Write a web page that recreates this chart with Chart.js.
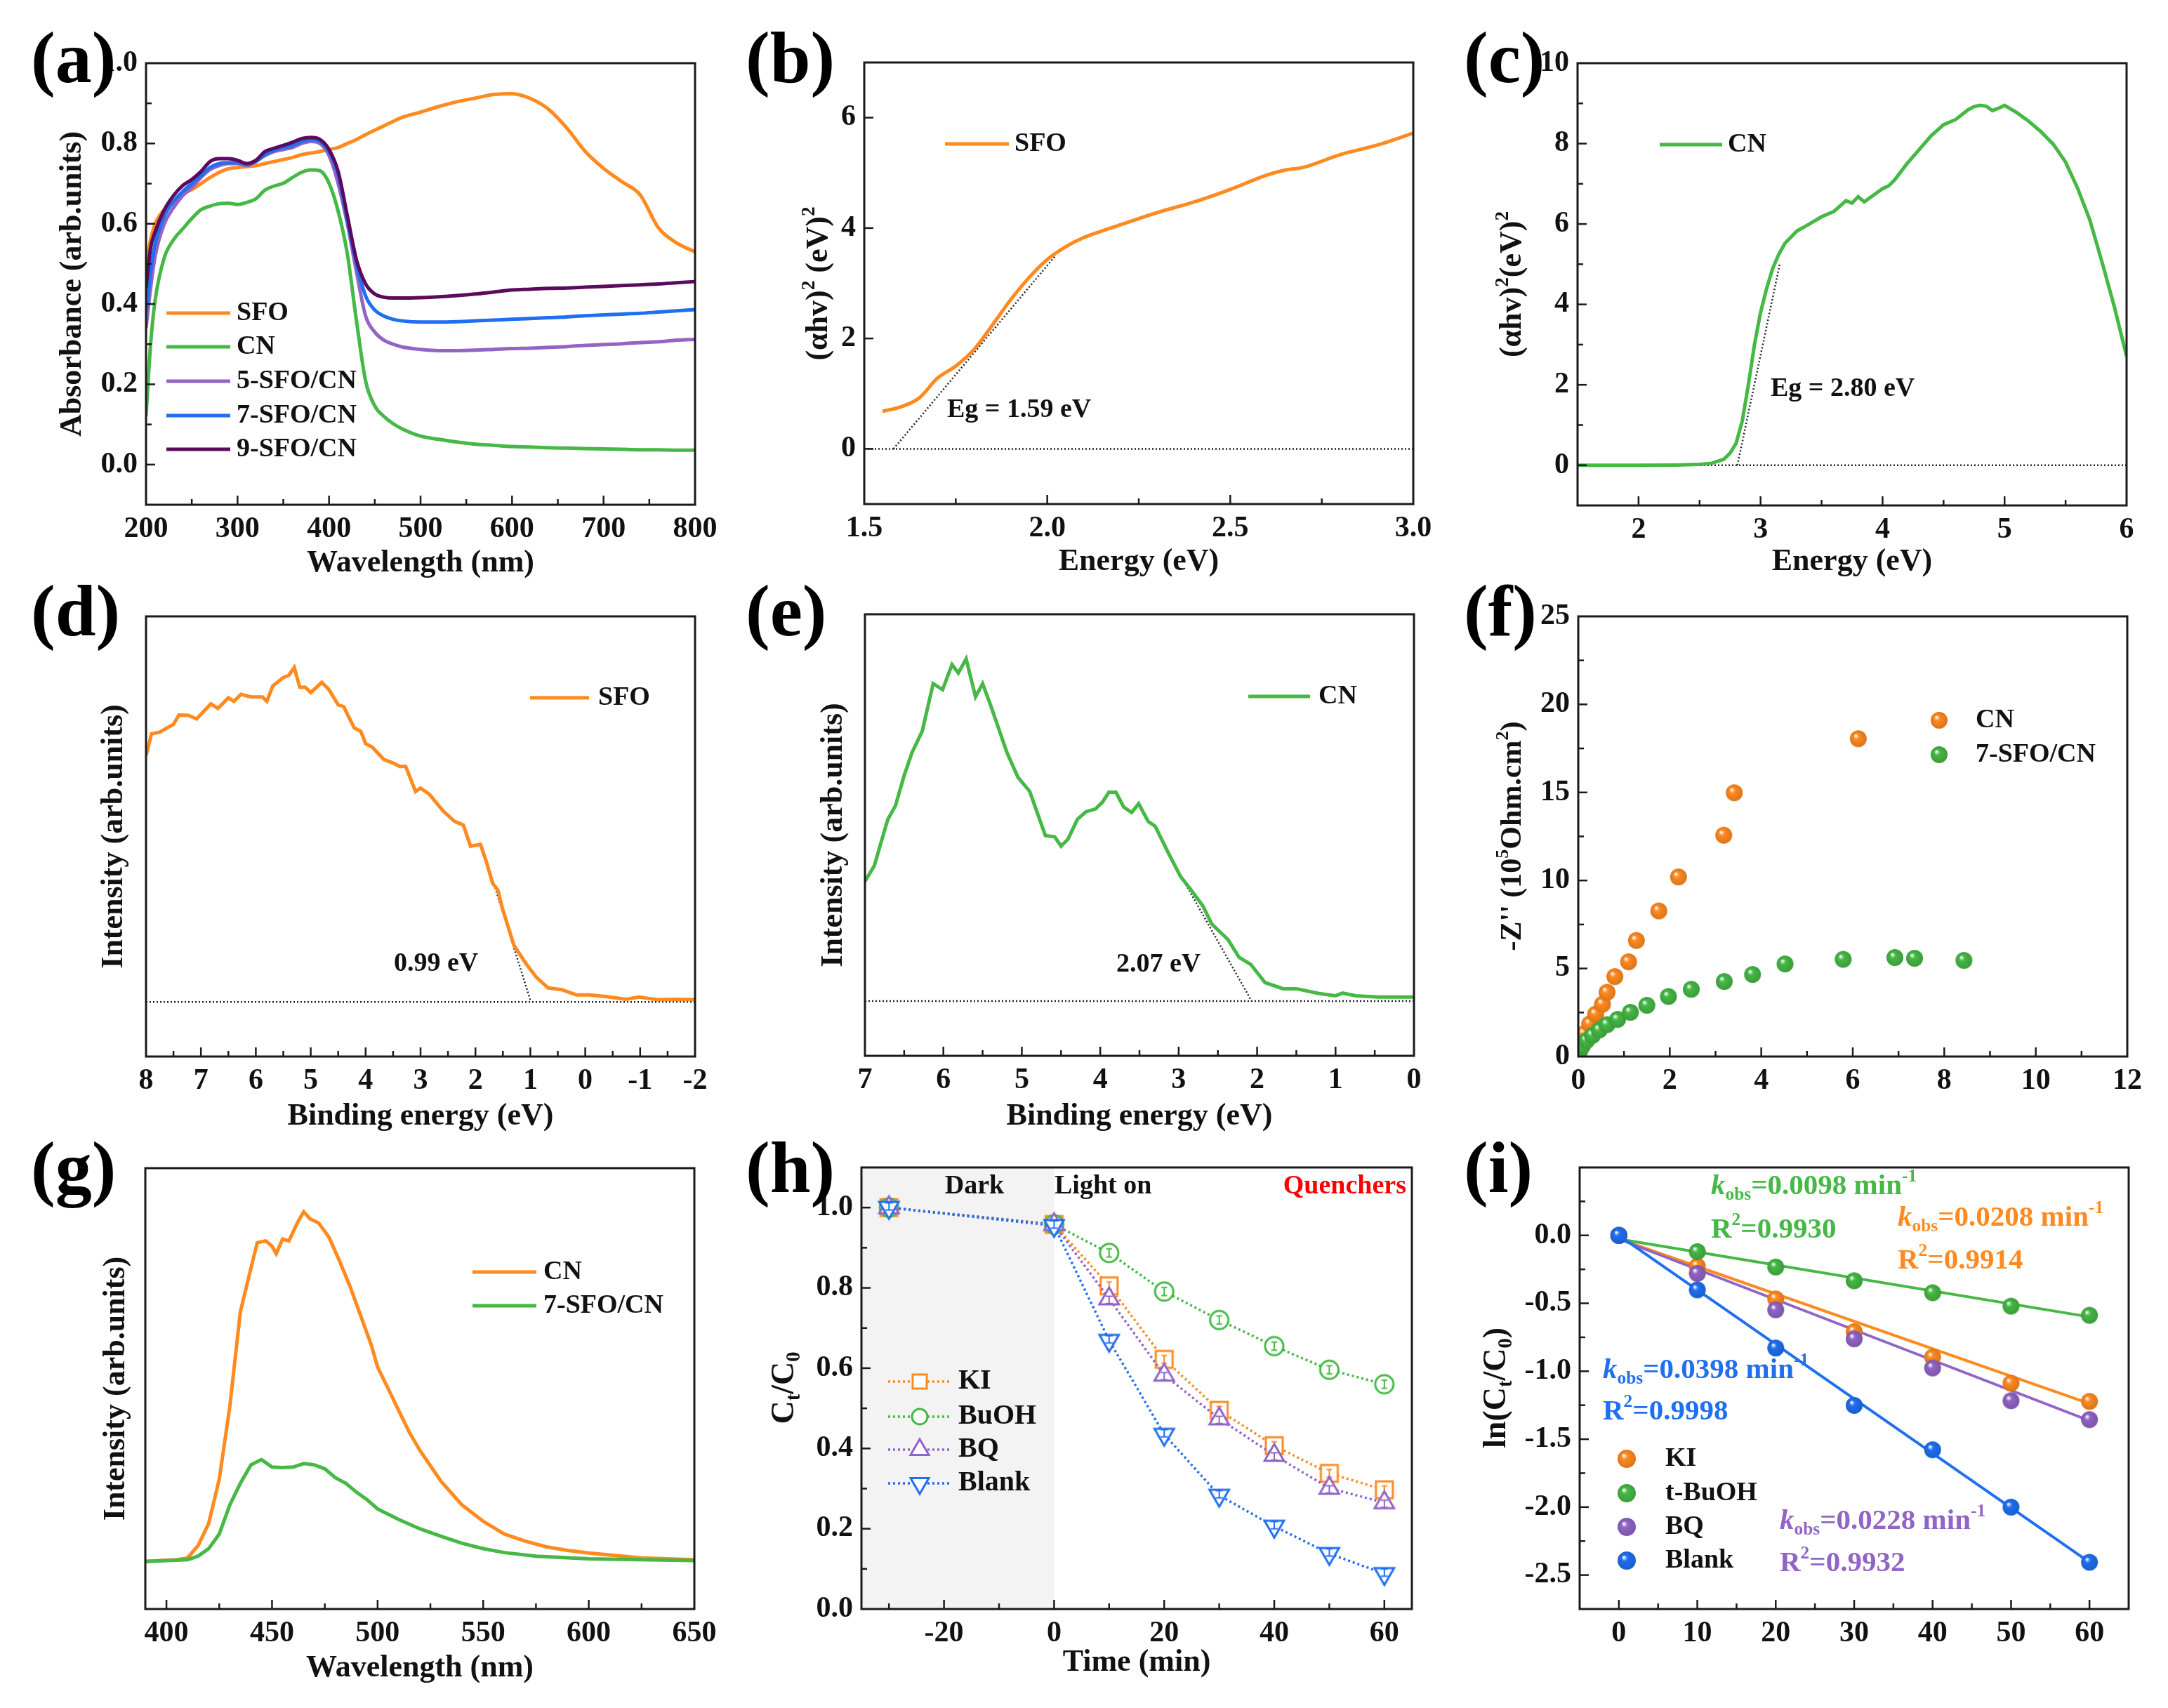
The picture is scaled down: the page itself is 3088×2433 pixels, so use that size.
<!DOCTYPE html>
<html><head><meta charset="utf-8">
<script src="https://cdn.jsdelivr.net/npm/chart.js@4.4.1/dist/chart.umd.min.js"></script>
<style>
html,body{margin:0;padding:0;background:#fff}
#root{position:relative;width:3088px;height:2433px;overflow:hidden;background:#fff}
#root canvas{position:absolute}
.pl{position:absolute;z-index:5;font-family:"Liberation Serif","Times New Roman",serif;font-weight:bold;font-size:104px;line-height:104px;color:#000;white-space:nowrap}
</style></head><body><div id="root">
<div class="pl" style="left:44px;top:30px">(a)</div>
<div class="pl" style="left:1062px;top:30px">(b)</div>
<div class="pl" style="left:2085px;top:30px">(c)</div>
<div class="pl" style="left:44px;top:818px">(d)</div>
<div class="pl" style="left:1062px;top:818px">(e)</div>
<div class="pl" style="left:2085px;top:818px">(f)</div>
<div class="pl" style="left:44px;top:1611px">(g)</div>
<div class="pl" style="left:1062px;top:1611px">(h)</div>
<div class="pl" style="left:2085px;top:1611px">(i)</div>
</div>
<script>
// ---------------- DATA ----------------
// (a) UV-vis absorbance
const aWavelength = [200,205,210,220,230,240,250,260,270,280,290,300,310,320,330,340,350,360,370,380,390,400,410,420,430,440,450,460,470,480,500,520,540,560,580,600,620,640,660,680,700,720,740,760,780,800];
const aSFO   = [0.50,0.56,0.60,0.635,0.655,0.675,0.685,0.70,0.715,0.728,0.737,0.74,0.742,0.745,0.75,0.755,0.76,0.765,0.772,0.776,0.78,0.785,0.79,0.80,0.81,0.822,0.833,0.844,0.855,0.865,0.878,0.892,0.904,0.913,0.922,0.924,0.912,0.885,0.838,0.78,0.738,0.705,0.672,0.59,0.552,0.53];
const aCN    = [0.12,0.30,0.41,0.516,0.56,0.587,0.613,0.635,0.644,0.65,0.651,0.648,0.653,0.662,0.684,0.694,0.701,0.715,0.728,0.734,0.732,0.701,0.631,0.525,0.358,0.208,0.146,0.12,0.102,0.089,0.071,0.063,0.056,0.051,0.048,0.045,0.044,0.042,0.041,0.04,0.039,0.038,0.037,0.037,0.036,0.036];
const a5SFO  = [0.34,0.44,0.52,0.60,0.64,0.67,0.69,0.715,0.735,0.745,0.75,0.75,0.745,0.755,0.77,0.78,0.785,0.79,0.80,0.805,0.80,0.77,0.70,0.60,0.48,0.37,0.33,0.31,0.30,0.293,0.287,0.284,0.284,0.285,0.287,0.289,0.29,0.292,0.294,0.297,0.299,0.301,0.304,0.306,0.31,0.312];
const a7SFO  = [0.38,0.48,0.55,0.62,0.655,0.68,0.70,0.72,0.74,0.75,0.752,0.752,0.748,0.755,0.772,0.783,0.79,0.795,0.805,0.81,0.805,0.78,0.72,0.61,0.50,0.42,0.385,0.37,0.362,0.358,0.355,0.355,0.356,0.358,0.36,0.362,0.364,0.366,0.368,0.371,0.373,0.375,0.377,0.38,0.383,0.386];
const a9SFO  = [0.44,0.54,0.58,0.635,0.67,0.695,0.71,0.73,0.755,0.762,0.762,0.758,0.75,0.758,0.78,0.788,0.795,0.803,0.812,0.815,0.81,0.785,0.73,0.62,0.51,0.45,0.425,0.417,0.415,0.415,0.416,0.418,0.421,0.425,0.43,0.435,0.437,0.439,0.44,0.442,0.444,0.446,0.448,0.45,0.453,0.456];
const aLegend = ['SFO','CN','5-SFO/CN','7-SFO/CN','9-SFO/CN'];

// (b) Tauc plot SFO
const bEnergy = [1.55,1.6,1.65,1.7,1.75,1.8,1.85,1.9,1.95,2.0,2.05,2.1,2.15,2.2,2.3,2.4,2.5,2.6,2.65,2.7,2.8,2.9,3.0];
const bSFO    = [0.68,0.76,0.92,1.28,1.50,1.80,2.24,2.70,3.10,3.43,3.66,3.83,3.95,4.06,4.28,4.47,4.70,4.96,5.05,5.10,5.33,5.50,5.72];
const bTangentX = [1.58,2.02], bTangentY = [0,3.48];
const bBaseX = [1.5,3.0], bBaseY = [0,0];

// (c) Tauc plot CN
const cEnergy = [1.5,2.0,2.3,2.5,2.6,2.7,2.75,2.8,2.85,2.9,2.95,3.0,3.05,3.1,3.15,3.2,3.3,3.4,3.5,3.6,3.7,3.75,3.8,3.85,3.9,4.0,4.05,4.1,4.2,4.3,4.4,4.5,4.6,4.7,4.75,4.8,4.85,4.9,4.95,5.0,5.1,5.2,5.3,5.4,5.5,5.6,5.7,5.8,5.9,6.0];
const cCN     = [0,0,0.005,0.02,0.05,0.15,0.3,0.55,1.1,2.0,3.0,3.8,4.4,4.9,5.25,5.52,5.83,6.0,6.18,6.31,6.58,6.52,6.68,6.55,6.66,6.88,6.95,7.1,7.5,7.85,8.2,8.47,8.6,8.84,8.92,8.95,8.93,8.82,8.88,8.95,8.77,8.55,8.29,7.98,7.54,6.88,6.09,5.04,3.94,2.71];
const cTangentX = [2.81,3.16], cTangentY = [0,5.04];
const cBaseX = [1.5,6.0], cBaseY = [0,0];

// (d) VB-XPS SFO (intensity, arbitrary units)
const dEnergy = [8.0,7.9,7.75,7.5,7.4,7.23,7.08,6.82,6.69,6.5,6.4,6.27,6.09,5.88,5.8,5.69,5.5,5.4,5.3,5.2,5.1,5.0,4.8,4.67,4.5,4.4,4.21,4.09,4.0,3.88,3.67,3.5,3.38,3.27,3.09,3.0,2.84,2.59,2.38,2.22,2.09,1.91,1.8,1.69,1.59,1.51,1.3,1.09,0.89,0.68,0.43,0.16,-0.07,-0.4,-0.74,-0.98,-1.32,-1.65,-2.0];
const dSFO    = [68.3,73.3,73.7,75.5,77.6,77.5,76.7,80.1,79.1,81.5,80.7,82.3,81.7,81.7,80.7,84.2,86.1,86.6,88.4,83.9,83.9,82.7,85.0,83.4,79.9,79.5,74.7,73.9,71.1,70.3,67.5,66.7,65.9,65.9,60.2,61.0,59.6,55.8,53.4,52.6,47.8,48.2,44.2,39.4,37.8,33.7,25.3,21.3,18.0,15.6,15.2,14.0,14.0,13.6,13.0,13.5,12.9,13.0,12.9];
const dTangentX = [1.89,0.99], dTangentY = [48.2,12.4];
const dBaseX = [8,-2], dBaseY = [12.4,12.4];

// (e) VB-XPS CN
const eEnergy = [7.0,6.88,6.71,6.61,6.5,6.4,6.27,6.13,6.01,5.89,5.81,5.71,5.59,5.5,5.4,5.19,5.05,4.9,4.7,4.58,4.5,4.41,4.29,4.18,4.06,3.97,3.89,3.8,3.7,3.6,3.51,3.39,3.3,3.13,2.98,2.84,2.69,2.58,2.37,2.23,2.08,1.9,1.67,1.5,1.21,1.0,0.91,0.74,0.45,0.0];
const eCN     = [39.5,43.1,53.5,56.7,63.5,68.7,73.5,84.3,82.9,88.6,86.7,89.9,81.3,84.3,79.5,68.7,63.1,59.9,49.9,49.6,47.5,49.1,53.6,55.3,55.9,57.5,59.7,59.7,56.3,55.1,57.1,53.1,52.0,45.9,40.7,37.5,33.9,29.9,26.3,22.3,20.7,16.6,15.2,15.2,14.1,13.6,14.2,13.6,13.3,13.3];
const eTangentX = [3.02,2.07], eTangentY = [42.3,12.4];
const eBaseX = [7,0], eBaseY = [12.4,12.4];

// (f) Nyquist
const fCN_Zre  = [0.03,0.06,0.13,0.25,0.38,0.53,0.63,0.80,1.10,1.27,1.76,2.19,3.18,3.41,6.12];
const fCN_Zim  = [0.6,0.9,1.3,1.85,2.41,2.97,3.65,4.54,5.38,6.59,8.27,10.2,12.57,14.98,18.05];
const f7_Zre   = [0.03,0.09,0.18,0.31,0.46,0.63,0.86,1.14,1.50,1.97,2.47,3.19,3.81,4.52,5.79,6.92,7.35,8.43];
const f7_Zim   = [0.3,0.6,0.9,1.2,1.51,1.81,2.11,2.51,2.91,3.41,3.82,4.26,4.66,5.26,5.52,5.62,5.58,5.46];

// (g) PL
const gCN_Wl = [390,405,410,415,420,425,430,435,440,443,447,450,452,455,458,462,465,468,472,477,482,487,492,497,500,505,510,515,520,530,540,550,560,570,580,590,600,625,650];
const gCN    = [10.8,11.2,11.6,14.4,19.4,29.4,45.9,67.4,77.3,83.1,83.5,82.3,80.6,83.9,83.5,87.6,90.1,88.5,87.6,84.3,78.9,73.1,66.5,59.9,54.9,50.0,45.0,40.1,36.0,29.0,23.6,19.9,17.0,15.4,14.1,13.3,12.7,11.6,11.2];
const g7_Wl  = [390,410,415,420,425,430,435,440,445,450,455,460,465,470,475,480,485,490,495,500,510,520,530,540,550,560,575,600,650];
const g7SFO  = [10.8,11.2,12.0,13.7,17.0,23.6,28.5,32.7,33.9,32.2,32.1,32.2,33.0,32.7,31.8,29.8,28.5,26.5,24.8,22.7,20.3,18.2,16.5,14.9,13.7,12.8,12.0,11.4,11.0];

// (h) quenching Ct/C0
const hTime  = [-30,0,10,20,30,40,50,60];
const hKI    = [1.0,0.958,0.805,0.622,0.495,0.407,0.338,0.297];
const hBuOH  = [1.0,0.958,0.887,0.791,0.72,0.655,0.596,0.56];
const hBQ    = [1.0,0.958,0.773,0.583,0.474,0.383,0.301,0.265];
const hBlank = [1.0,0.955,0.669,0.435,0.283,0.206,0.138,0.088];
const hLightOn = 0, hDarkStart = -35;
const hLegend = ['KI','BuOH','BQ','Blank'];

// (i) kinetics ln(Ct/C0)
const iTime  = [0,10,20,30,40,50,60];
const iKI    = [0,-0.227,-0.468,-0.709,-0.896,-1.088,-1.222];
const iBuOH  = [0,-0.12,-0.233,-0.334,-0.422,-0.521,-0.588];
const iBQ    = [0,-0.28,-0.548,-0.762,-0.976,-1.217,-1.356];
const iBlank = [0,-0.401,-0.829,-1.251,-1.578,-2.0,-2.406];
const iFitT  = [0,60];
const iFitKI = [-0.027,-1.238], iFitBuOH = [-0.027,-0.60], iFitBQ = [-0.027,-1.364], iFitBlank = [0,-2.406];
const iLegend = ['KI','t-BuOH','BQ','Blank'];
const iKobs = ['0.0208','0.0098','0.0228','0.0398'];
const iR2   = ['0.9914','0.9930','0.9932','0.9998'];

// ---------------- STYLE / LAYOUT ----------------
const FONT = '"Liberation Serif","Times New Roman",serif';
const COL = {orange:'#FF8A1F', green:'#45B845', purple:'#9264C6', blue:'#1F6FF0', dark:'#5C0A5E', red:'#FF0000', ink:'#111'};
const GEO = {
  a:{L:208,T:90,R:990,B:719},   b:{L:1231,T:89,R:2013,B:718},  c:{L:2247,T:90,R:3029,B:720},
  d:{L:208,T:878,R:990,B:1505}, e:{L:1232,T:875,R:2014,B:1504}, f:{L:2248,T:878,R:3030,B:1505},
  g:{L:207,T:1664,R:989,B:2292},h:{L:1227,T:1663,R:2011,B:2292}, i:{L:2250,T:1663,R:3032,B:2292}
};
const PAD_L = 200, PAD_T = 50, PAD_R = 50, PAD_B = 130;
const PANEL = {};
const root = document.getElementById('root');

function pts(xs, ys){ return xs.map((x,i)=>({x:x, y:ys[i]})); }
function shadeCol(hex, f){ const n=parseInt(hex.slice(1),16); return 'rgb('+Math.round(((n>>16)&255)*f)+','+Math.round(((n>>8)&255)*f)+','+Math.round((n&255)*f)+')'; }
const ballCache = {};
function ballImg(color, r){
  const key=color+'_'+r; if(ballCache[key]) return ballCache[key];
  const s=Math.ceil(2*r+2), c=document.createElement('canvas'); c.width=s; c.height=s;
  const g=c.getContext('2d'), cx=s/2, cy=s/2;
  const grd=g.createRadialGradient(cx-r*0.33, cy-r*0.38, r*0.04, cx, cy, r);
  grd.addColorStop(0,'rgba(255,255,255,0.98)');
  grd.addColorStop(0.3,color);
  grd.addColorStop(1,shadeCol(color,0.85));
  g.fillStyle=grd; g.beginPath(); g.arc(cx,cy,r,0,Math.PI*2); g.fill();
  ballCache[key]=c; return c;
}
function drawMark(ctx, shape, x, y, r, color){
  ctx.setLineDash([]); ctx.lineWidth=3; ctx.strokeStyle=color; ctx.fillStyle='#fff'; ctx.beginPath();
  if(shape==='rect'){ ctx.rect(x-r,y-r,2*r,2*r); }
  else if(shape==='circle'){ ctx.arc(x,y,r,0,2*Math.PI); }
  else { const s = shape==='tri'?1:-1; ctx.moveTo(x,y-s*r); ctx.lineTo(x+r*0.866,y+s*r*0.5); ctx.lineTo(x-r*0.866,y+s*r*0.5); ctx.closePath(); }
  ctx.fill(); ctx.stroke();
}
function markImg(shape, r, color){
  const s=Math.ceil(2*r+6), c=document.createElement('canvas'); c.width=s; c.height=s;
  const g=c.getContext('2d'), cx=s/2, cy=s/2;
  drawMark(g, shape, cx, cy, r, color);
  const h = shape.indexOf('tri')===0 ? r*0.32 : r*0.45, w = r*0.32;
  const oy = shape==='tri' ? r*0.1 : (shape==='triDown' ? -r*0.1 : 0);
  g.strokeStyle=color; g.lineWidth=2; g.beginPath();
  g.moveTo(cx, cy+oy-h); g.lineTo(cx, cy+oy+h);
  g.moveTo(cx-w, cy+oy-h); g.lineTo(cx+w, cy+oy-h);
  g.moveTo(cx-w, cy+oy+h); g.lineTo(cx+w, cy+oy+h);
  g.stroke();
  return c;
}
function tickList(s){ const out=[]; if(s.noTicks) return out; for(let k=0;;k++){ const v=s.start+k*s.step; if(v>s.end+1e-9) break; out.push(Math.round(v*1e6)/1e6);} return out; }
function isMajor(v,s){ const q=(v-(s.majorBase||0))/s.major; return Math.abs(q-Math.round(q))<1e-6; }
function labelFor(v,s){
  if(Math.abs(v)<1e-9) v=0;
  if(!isMajor(v,s)) return '';
  if(s.labelMin!==undefined && v<s.labelMin-1e-9) return '';
  if(s.labelMax!==undefined && v>s.labelMax+1e-9) return '';
  return s.dec ? v.toFixed(s.dec) : String(Math.round(v));
}
function drawRich(ctx, segs, size, color, align){
  const parts = segs.map(sg=>{
    const small = sg.sub||sg.sup; const sz = small? size*0.62 : size;
    const font = (sg.it?'italic ':'')+'bold '+sz+'px '+FONT;
    ctx.font=font;
    return {t:sg.t, font:font, w:ctx.measureText(sg.t).width, dy: sg.sub? size*0.3 : (sg.sup? -size*0.33 : 0)};
  });
  const total = parts.reduce((a,p)=>a+p.w,0);
  let x = align==='center' ? -total/2 : (align==='right' ? -total : 0);
  ctx.textBaseline='middle'; ctx.textAlign='left'; ctx.fillStyle=color;
  parts.forEach(p=>{ ctx.font=p.font; ctx.fillText(p.t, x, p.dy); x+=p.w; });
}

const decor = {
  id:'decor',
  beforeDatasetsDraw(chart){
    const P=PANEL[chart.canvas.id]; if(!P||!P.shade) return;
    const a=chart.chartArea, xs=chart.scales.x, ctx=chart.ctx;
    const x0=xs.getPixelForValue(P.shade[0]), x1=xs.getPixelForValue(P.shade[1]);
    ctx.save(); ctx.fillStyle='#f3f3f3'; ctx.fillRect(Math.min(x0,x1), a.top, Math.abs(x1-x0), a.bottom-a.top); ctx.restore();
  },
  afterDraw(chart){
    const P=PANEL[chart.canvas.id]; if(!P) return;
    const ctx=chart.ctx, a=chart.chartArea;
    ctx.save();
    ctx.strokeStyle='#1a1a1a'; ctx.lineWidth=2.5; ctx.setLineDash([]);
    ['x','y'].forEach(id=>{
      const s=P.spec[id], sc=chart.scales[id]; if(s.noTicks) return;
      sc.ticks.forEach(t=>{
        const v=t.value; if(Math.abs(v-sc.min)<1e-9||Math.abs(v-sc.max)<1e-9) return;
        const len=isMajor(v,s)?13:8, p=sc.getPixelForValue(v);
        ctx.beginPath();
        if(id==='x'){ ctx.moveTo(p,a.bottom); ctx.lineTo(p,a.bottom-len); }
        else { ctx.moveTo(a.left,p); ctx.lineTo(a.left+len,p); }
        ctx.stroke();
      });
    });
    ctx.lineWidth=3; ctx.strokeStyle='#1a1a1a';
    ctx.strokeRect(a.left, a.top, a.right-a.left, a.bottom-a.top);
    ctx.restore();
    const ox=P.cl, oy=P.ct;
    (P.items||[]).forEach(it=>{
      ctx.save();
      if(it.t==='line'){ ctx.strokeStyle=it.color; ctx.lineWidth=it.w||5; ctx.setLineDash(it.dash||[]); ctx.beginPath(); ctx.moveTo(it.x1-ox,it.y-oy); ctx.lineTo(it.x2-ox,it.y-oy); ctx.stroke(); }
      else if(it.t==='ball'){ const im=ballImg(it.color,it.r||12); ctx.drawImage(im,it.x-ox-im.width/2,it.y-oy-im.height/2); }
      else if(it.t==='mark'){ drawMark(ctx,it.shape,it.x-ox,it.y-oy,it.r,it.color); }
      else if(it.t==='text'){ ctx.translate(it.x-ox,it.y-oy); if(it.rot) ctx.rotate(it.rot*Math.PI/180); drawRich(ctx, it.segs||[{t:it.text}], it.size||38, it.color||COL.ink, it.align||'left'); }
      ctx.restore();
    });
  }
};
Chart.register(decor);

function makeAxis(id, s, g, cl){
  const horiz = id==='x';
  const tfont = {family:FONT, weight:'bold', size:44, lineHeight:1.2};
  const o = {
    type:'linear', position: horiz?'bottom':'left', min:s.min, max:s.max, reverse:!!s.reverse,
    grid:{display:false, drawTicks:false}, border:{display:false},
    ticks:{display:!s.noLabels, autoSkip:false, maxRotation:0, minRotation:0, padding: horiz?10:12,
      font:{family:FONT, weight:'bold', size:42, lineHeight:1.2}, color:COL.ink,
      callback:(v)=>labelFor(v,s)},
    afterBuildTicks:(sc)=>{ sc.ticks = tickList(s).map(v=>({value:v})); },
    afterFit:(sc)=>{ if(horiz) sc.height=PAD_B; else sc.width=PAD_L; },
    title:{display:!!s.title, text:s.title||'', color:COL.ink, font:tfont}
  };
  if(s.title){
    if(horiz) o.title.padding = {top:0, bottom: Math.max(0,(g.B+PAD_B - s.titleY) - 26.4)};
    else o.title.padding = {top: Math.max(0,(s.titleX - cl) - 26.4), bottom:0};
  }
  return o;
}

function build(id, spec){
  const g=GEO[id];
  const cl=g.L-PAD_L, ct=g.T-PAD_T, cw=g.R-g.L+PAD_L+PAD_R, ch=g.B-g.T+PAD_T+PAD_B;
  const cv=document.createElement('canvas'); cv.id='cv_'+id; cv.width=cw; cv.height=ch;
  cv.style.left=cl+'px'; cv.style.top=ct+'px'; cv.style.width=cw+'px'; cv.style.height=ch+'px';
  root.appendChild(cv);
  PANEL[cv.id]={cl:cl, ct:ct, spec:spec, items:spec.items, shade:spec.shade};
  new Chart(cv.getContext('2d'), {
    type:'scatter',
    data:{datasets:spec.datasets},
    options:{
      responsive:false, animation:false, devicePixelRatio:1, events:[],
      layout:{padding:{left:0, top:PAD_T, right:PAD_R, bottom:0}},
      plugins:{legend:{display:false}, tooltip:{enabled:false}},
      scales:{x:makeAxis('x',spec.x,g,cl), y:makeAxis('y',spec.y,g,cl)}
    }
  });
}

function LINE(xs, ys, color, extra){ return Object.assign({data:pts(xs,ys), showLine:true, borderColor:color, backgroundColor:color, borderWidth:5, pointRadius:0, pointHoverRadius:0, tension:0, fill:false}, extra||{}); }
function DOT(xs, ys){ return LINE(xs, ys, '#222', {borderWidth:2.5, borderDash:[2,3], order:20}); }
function BALLS(xs, ys, color, extra){ return Object.assign({data:pts(xs,ys), showLine:false, pointStyle:ballImg(color,12), pointRadius:12, pointHoverRadius:12, backgroundColor:color, borderColor:color}, extra||{}); }
function MARKS(xs, ys, color, shape, r, extra){ return Object.assign({data:pts(xs,ys), showLine:true, borderColor:color, backgroundColor:'#fff', borderWidth:3.5, borderDash:[3,4], tension:0,
  pointStyle:markImg(shape,r,color), pointRadius:r, pointHoverRadius:r}, extra||{}); }
function T(x,y,text,o){ return Object.assign({t:'text',x:x,y:y,text:text}, o||{}); }
function kobs(val){ return [{t:'k',it:true},{t:'obs',sub:true},{t:'='+val+' min'},{t:'-1',sup:true}]; }
function r2(val){ return [{t:'R'},{t:'2',sup:true},{t:'='+val}]; }

// (a)
const aColors=[COL.orange,COL.green,COL.purple,COL.blue,COL.dark];
const aYs=[446,494,543,592,640];
build('a',{
  x:{min:200,max:800,start:200,end:800,step:50,major:100,title:'Wavelength (nm)',titleY:803},
  y:{min:-0.1,max:1.0,start:-0.1,end:1.0,step:0.1,major:0.2,dec:1,labelMin:0,title:'Absorbance (arb.units)',titleX:104},
  datasets:[
    LINE(aWavelength,a9SFO,COL.dark,{order:0,cubicInterpolationMode:'monotone'}),
    LINE(aWavelength,a7SFO,COL.blue,{order:1,cubicInterpolationMode:'monotone'}),
    LINE(aWavelength,a5SFO,COL.purple,{order:2,cubicInterpolationMode:'monotone'}),
    LINE(aWavelength,aCN,COL.green,{order:3,cubicInterpolationMode:'monotone'}),
    LINE(aWavelength,aSFO,COL.orange,{order:4,cubicInterpolationMode:'monotone'})
  ],
  items: aLegend.flatMap((n,k)=>[{t:'line',x1:237,x2:328,y:aYs[k],color:aColors[k],w:5}, T(337,aYs[k],n)])
});

// (b)
build('b',{
  x:{min:1.5,max:3.0,start:1.5,end:3.0,step:0.25,major:0.5,dec:1,title:'Energy (eV)',titleY:801},
  y:{min:-1,max:7,start:0,end:6,step:2,major:2},
  datasets:[ LINE(bEnergy,bSFO,COL.orange,{order:1,cubicInterpolationMode:'monotone'}), DOT(bTangentX,bTangentY), DOT(bBaseX,bBaseY) ],
  items:[ {t:'line',x1:1346,x2:1437,y:205,color:COL.orange,w:5}, T(1445,205,'SFO'), T(1349,584,'Eg = 1.59 eV'),
    {t:'text',x:1167,y:404,rot:-90,align:'center',size:44,segs:[{t:'(\u03b1hv)'},{t:'2',sup:true},{t:' (eV)'},{t:'2',sup:true}]} ]
});

// (c)
build('c',{
  x:{min:1.5,max:6,start:1.5,end:6,step:0.5,major:1,title:'Energy (eV)',titleY:801},
  y:{min:-1,max:10,start:-1,end:10,step:1,major:2},
  datasets:[ LINE(cEnergy,cCN,COL.green,{order:1}), DOT(cTangentX,cTangentY), DOT(cBaseX,cBaseY) ],
  items:[ {t:'line',x1:2364,x2:2453,y:206,color:COL.green,w:5}, T(2461,206,'CN'), T(2522,554,'Eg = 2.80 eV'),
    {t:'text',x:2155,y:405,rot:-90,align:'center',size:44,segs:[{t:'(\u03b1hv)'},{t:'2',sup:true},{t:'(eV)'},{t:'2',sup:true}]} ]
});

// (d)
build('d',{
  x:{min:-2,max:8,reverse:true,start:-2,end:8,step:0.5,major:1,title:'Binding energy (eV)',titleY:1591},
  y:{min:0,max:100,noTicks:true,noLabels:true,title:'Intensity (arb.units)',titleX:163},
  datasets:[ LINE(dEnergy,dSFO,COL.orange,{order:1,borderWidth:5}), DOT(dTangentX,dTangentY), DOT(dBaseX,dBaseY) ],
  items:[ {t:'line',x1:755,x2:839,y:994,color:COL.orange,w:5}, T(852,994,'SFO'), T(561,1373,'0.99 eV') ]
});

// (e)
build('e',{
  x:{min:0,max:7,reverse:true,start:0,end:7,step:0.5,major:1,title:'Binding energy (eV)',titleY:1591},
  y:{min:0,max:100,noTicks:true,noLabels:true,title:'Intensity (arb.units)',titleX:1188},
  datasets:[ LINE(eEnergy,eCN,COL.green,{order:1,borderWidth:5}), DOT(eTangentX,eTangentY), DOT(eBaseX,eBaseY) ],
  items:[ {t:'line',x1:1778,x2:1866,y:992,color:COL.green,w:5}, T(1878,992,'CN'), T(1590,1374,'2.07 eV') ]
});

// (f)
build('f',{
  x:{min:0,max:12,start:0,end:12,step:1,major:2},
  y:{min:0,max:25,start:0,end:25,step:2.5,major:5},
  datasets:[ BALLS(fCN_Zre,fCN_Zim,COL.orange,{order:1}), BALLS(f7_Zre,f7_Zim,COL.green,{order:0}) ],
  items:[ {t:'ball',x:2762,y:1026,color:COL.orange}, T(2814,1026,'CN'),
          {t:'ball',x:2762,y:1075,color:COL.green}, T(2814,1075,'7-SFO/CN'),
          {t:'text',x:2155,y:1191,rot:-90,align:'center',size:42,segs:[{t:"-Z'' (10"},{t:'5',sup:true},{t:'Ohm.cm'},{t:'2',sup:true},{t:')'}]} ]
});

// (g)
build('g',{
  x:{min:390,max:650,start:400,end:650,step:25,major:50,title:'Wavelength (nm)',titleY:2377},
  y:{min:0,max:100,noTicks:true,noLabels:true,title:'Intensity (arb.units)',titleX:166},
  datasets:[ LINE(g7_Wl,g7SFO,COL.green,{order:1,borderWidth:5}), LINE(gCN_Wl,gCN,COL.orange,{order:2,borderWidth:5}) ],
  items:[ {t:'line',x1:673,x2:764,y:1812,color:COL.orange,w:5}, T(774,1812,'CN'),
          {t:'line',x1:673,x2:764,y:1860,color:COL.green,w:5}, T(774,1860,'7-SFO/CN') ]
});

// (h)
const hCols=[COL.orange,COL.green,COL.purple,COL.blue];
const hShapes=['rect','circle','tri','triDown'];
const hLegR=[10,11,15,15];
const hLegY=[1968,2018,2065,2113];
build('h',{
  shade:[hDarkStart,hLightOn],
  x:{min:-35,max:65,start:-30,end:60,step:10,major:20,title:'Time (min)',titleY:2369},
  y:{min:0,max:1.1,start:0,end:1.1,step:0.1,major:0.2,dec:1,labelMax:1.0},
  datasets:[
    MARKS(hTime,hKI,COL.orange,'rect',12,{order:3}),
    MARKS(hTime,hBuOH,COL.green,'circle',13,{order:2}),
    MARKS(hTime,hBQ,COL.purple,'tri',16,{order:1}),
    MARKS(hTime,hBlank,COL.blue,'triDown',16,{order:0})
  ],
  items: hLegend.flatMap((n,k)=>[
      {t:'line',x1:1265,x2:1355,y:hLegY[k],color:hCols[k],w:3.5,dash:[3,4]},
      {t:'mark',x:1310,y:hLegY[k],shape:hShapes[k],r:hLegR[k],color:hCols[k]},
      T(1365,hLegY[k],n,{size:40})
    ]).concat([
      T(1388,1690,'Dark',{align:'center'}), T(1502,1690,'Light on'), T(2003,1690,'Quenchers',{align:'right',color:COL.red}),
      {t:'text',x:1118,y:1977,rot:-90,align:'center',size:46,segs:[{t:'C'},{t:'t',sub:true},{t:'/C'},{t:'0',sub:true}]}
    ])
});

// (i)
const iCols=[COL.orange,COL.green,COL.purple,COL.blue];
const iLegY=[2078,2127,2175,2223];
build('i',{
  x:{min:-5,max:65,start:0,end:60,step:5,major:10},
  y:{min:-2.75,max:0.5,start:-2.75,end:0.5,step:0.25,major:0.5,dec:1,labelMax:0},
  datasets:[
    LINE(iFitT,iFitKI,COL.orange,{order:13,borderWidth:4}),
    LINE(iFitT,iFitBuOH,COL.green,{order:12,borderWidth:4}),
    LINE(iFitT,iFitBQ,COL.purple,{order:11,borderWidth:4}),
    LINE(iFitT,iFitBlank,COL.blue,{order:10,borderWidth:4}),
    BALLS(iTime,iKI,COL.orange,{order:3}),
    BALLS(iTime,iBuOH,COL.green,{order:2}),
    BALLS(iTime,iBQ,COL.purple,{order:1}),
    BALLS(iTime,iBlank,COL.blue,{order:0})
  ],
  items: iLegend.flatMap((n,k)=>[{t:'ball',x:2317,y:iLegY[k],color:iCols[k],r:13}, T(2372,iLegY[k],n)]).concat([
    {t:'text',x:2437,y:1690,segs:kobs(iKobs[1]),color:COL.green,size:41},
    {t:'text',x:2437,y:1752,segs:r2(iR2[1]),color:COL.green,size:41},
    {t:'text',x:2703,y:1735,segs:kobs(iKobs[0]),color:COL.orange,size:41},
    {t:'text',x:2703,y:1796,segs:r2(iR2[0]),color:COL.orange,size:41},
    {t:'text',x:2283,y:1952,segs:kobs(iKobs[3]),color:COL.blue,size:41},
    {t:'text',x:2283,y:2011,segs:r2(iR2[3]),color:COL.blue,size:41},
    {t:'text',x:2535,y:2167,segs:kobs(iKobs[2]),color:COL.purple,size:41},
    {t:'text',x:2535,y:2227,segs:r2(iR2[2]),color:COL.purple,size:41},
    {t:'text',x:2132,y:1977,rot:-90,align:'center',size:46,segs:[{t:'ln(C'},{t:'t',sub:true},{t:'/C'},{t:'0',sub:true},{t:')'}]}
  ])
});
</script></body></html>
